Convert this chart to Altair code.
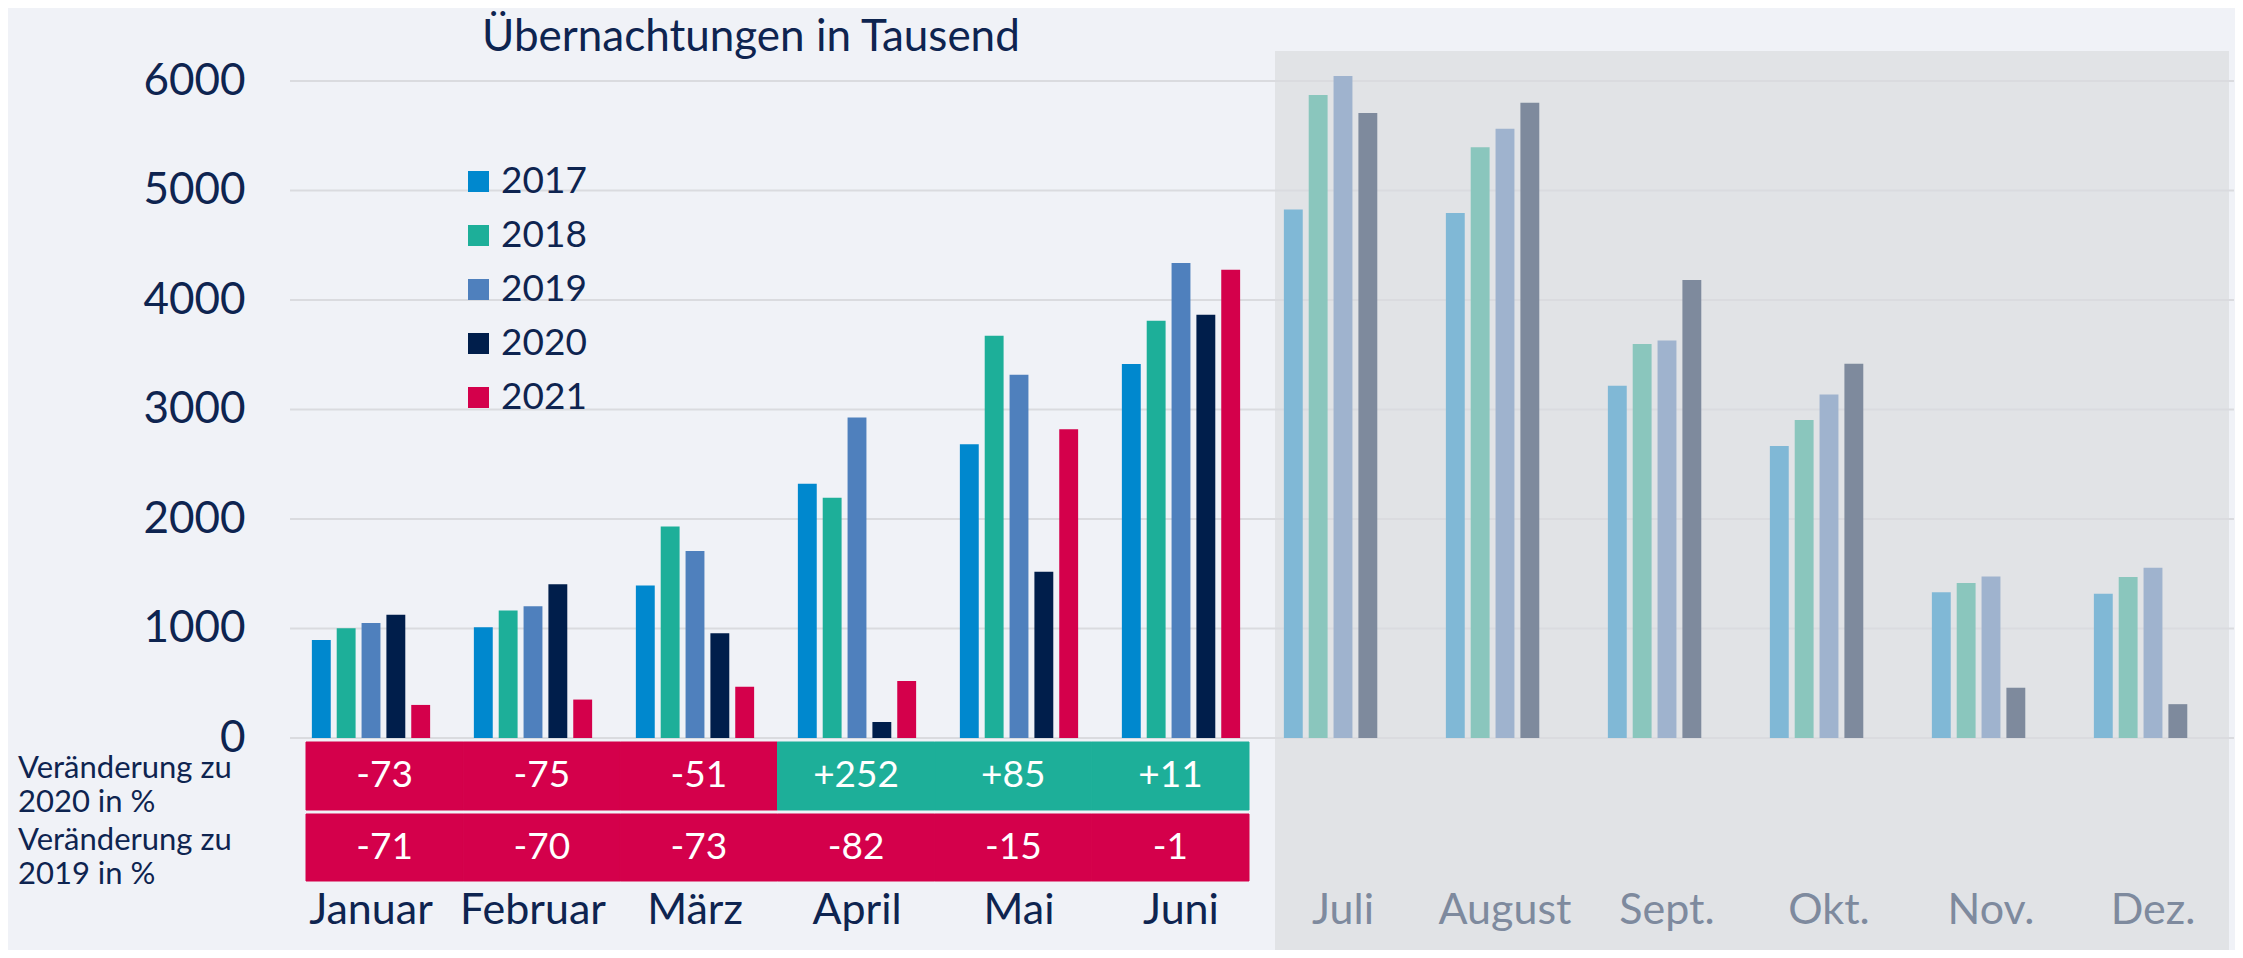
import altair as alt
import pandas as pd

# ---------------- data ----------------
months = ["Januar", "Februar", "März", "April", "Mai", "Juni",
          "Juli", "August", "Sept.", "Okt.", "Nov.", "Dez."]
years = ["2017", "2018", "2019", "2020", "2021"]

v2017 = [894, 1011, 1392, 2322, 2683, 3415, 4827, 4795, 3217, 2667, 1330, 1317]
v2018 = [1002, 1164, 1932, 2195, 3674, 3811, 5872, 5394, 3598, 2904, 1415, 1470]
v2019 = [1050, 1203, 1707, 2927, 3318, 4338, 6046, 5564, 3631, 3138, 1476, 1554]
v2020 = [1125, 1405, 956, 146, 1519, 3866, 5708, 5802, 4183, 3418, 459, 309]
v2021 = [302, 351, 468, 520, 2820, 4277]

change_vs_2020 = [-73, -75, -51, 252, 85, 11]
change_vs_2019 = [-71, -70, -73, -82, -15, -1]

row_labels = ["Veränderung zu\n2020 in %", "Veränderung zu\n2019 in %"]
title_text = "Übernachtungen in Tausend"
y_ticks = [0, 1000, 2000, 3000, 4000, 5000, 6000]

# ---------------- styles ----------------
BG = "#F0F2F7"
PANEL = "#E1E3E6"
GRID = "#DADBDF"
NAVY = "#0E2450"
GREY_TXT = "#7E8A9E"
RED = "#D4004B"
TEAL = "#1DAF99"
FONT = "Lato"

full_colors = ["#0088CE", "#1DAF99", "#4F80BD", "#001E4B", "#D4004B"]
faded_colors = ["#80B8D6", "#8AC6BD", "#9FB3CE", "#7E8A9D"]

series = {"2017": v2017, "2018": v2018, "2019": v2019, "2020": v2020, "2021": v2021}
rows = []
for yr, vals in series.items():
    for i, v in enumerate(vals):
        faded = i >= 6
        rows.append({"Monat": months[i], "Jahr": yr, "Wert": v,
                     "Farbe": yr + ("h" if faded else "")})
df = pd.DataFrame(rows)

color_domain = years + [y + "h" for y in years[:4]]
color_range = full_colors + faded_colors

W, H = 1944, 687
YMAX = 6274

y_scale = alt.Scale(domain=[0, YMAX], nice=False, zero=True)
y_axis = alt.Axis(values=y_ticks, format="d", title=None, grid=False,
                  ticks=False, domain=False, labelPadding=45, zindex=1,
                  labelFontSize=44, labelFont=FONT, labelColor=NAVY)

# background panel for second half of the year
panel = alt.Chart(pd.DataFrame({"p": [1]})).mark_rect(color=PANEL).encode(
    x=alt.value(985), x2=alt.value(1939), y=alt.value(0), y2=alt.value(910)
)

grid = alt.Chart(pd.DataFrame({"v": y_ticks})).mark_rule(color=GRID, strokeWidth=2).encode(
    y=alt.Y("v:Q", scale=y_scale, axis=y_axis)
)

second_half = months[6:]
label_color = alt.condition(
    "indexof(" + str(second_half) + ", datum.value) >= 0",
    alt.value(GREY_TXT), alt.value(NAVY)
)

bars = alt.Chart(df).mark_bar().encode(
    x=alt.X("Monat:N", sort=months,
            scale=alt.Scale(domain=months, paddingInner=0.27, paddingOuter=0.135),
            axis=alt.Axis(title=None, ticks=False, domain=False, labelAngle=0,
                          labelPadding=151, labelFontSize=43, labelFont=FONT,
                          labelColor=label_color, labelBaseline="top", zindex=1)),
    xOffset=alt.XOffset("Jahr:N", sort=years,
                        scale=alt.Scale(domain=years, paddingInner=0.24, paddingOuter=0)),
    y=alt.Y("Wert:Q", scale=y_scale, axis=y_axis),
    color=alt.Color("Farbe:N",
                    scale=alt.Scale(domain=color_domain, range=color_range),
                    legend=alt.Legend(values=years, title=None, orient="none",
                                      legendX=170, legendY=112, symbolType="square",
                                      symbolSize=441, symbolStrokeWidth=0,
                                      labelFontSize=37, labelFont=FONT,
                                      labelColor=NAVY, rowPadding=16,
                                      labelOffset=4, padding=0)),
)

# ---------------- table below the chart ----------------
first_half = months[:6]
t_scale = alt.Scale(domain=first_half, range=[16, 959], paddingInner=0, paddingOuter=0)


def table_df(vals):
    return pd.DataFrame({
        "Monat": first_half,
        "Wert": vals,
        "Text": [("+" if v > 0 else "") + str(v) for v in vals],
        "Farbe": [TEAL if v > 0 else RED for v in vals],
    })


def table_layers(vals, y0, y1, ytext):
    d = table_df(vals)
    base = alt.Chart(d)
    rect = base.mark_rect(strokeWidth=1).encode(
        x=alt.X("Monat:N", sort=first_half, scale=t_scale, axis=None),
        y=alt.value(y0), y2=alt.value(y1),
        color=alt.Color("Farbe:N", scale=None),
        stroke=alt.Stroke("Farbe:N", scale=None),
    )
    txt = base.mark_text(color="white", fontSize=37, font=FONT, baseline="middle").encode(
        x=alt.X("Monat:N", sort=first_half, scale=t_scale, axis=None),
        y=alt.value(ytext),
        text="Text:N",
    )
    return rect, txt


r1, tx1 = table_layers(change_vs_2020, 691, 759, 725)
r2, tx2 = table_layers(change_vs_2019, 763, 830, 797)

lab1 = alt.Chart(pd.DataFrame({"l": [row_labels[0]]})).mark_text(
    align="left", baseline="alphabetic", fontSize=31, font=FONT, color=NAVY,
    lineBreak="\n", lineHeight=34
).encode(x=alt.value(-272), y=alt.value(727), text="l:N")

lab2 = alt.Chart(pd.DataFrame({"l": [row_labels[1]]})).mark_text(
    align="left", baseline="alphabetic", fontSize=31, font=FONT, color=NAVY,
    lineBreak="\n", lineHeight=34
).encode(x=alt.value(-272), y=alt.value(799), text="l:N")

chart = alt.layer(panel, grid, bars, r1, r2, tx1, tx2, lab1, lab2).resolve_scale(
    x="independent", color="independent"
).properties(
    width=W, height=H,
    autosize=alt.AutoSizeParams(type="none"),
    padding={"left": 282, "top": 43, "right": 1, "bottom": 212},
    background=BG,
    title=alt.Title(title_text, fontSize=44, font=FONT, color=NAVY, fontWeight="normal",
                    anchor="start", frame="group", dx=192, dy=44, offset=0,
                    baseline="alphabetic"),
).configure_view(stroke=None)

chart.save("out.html", embed_options={"renderer": "svg", "actions": False})
